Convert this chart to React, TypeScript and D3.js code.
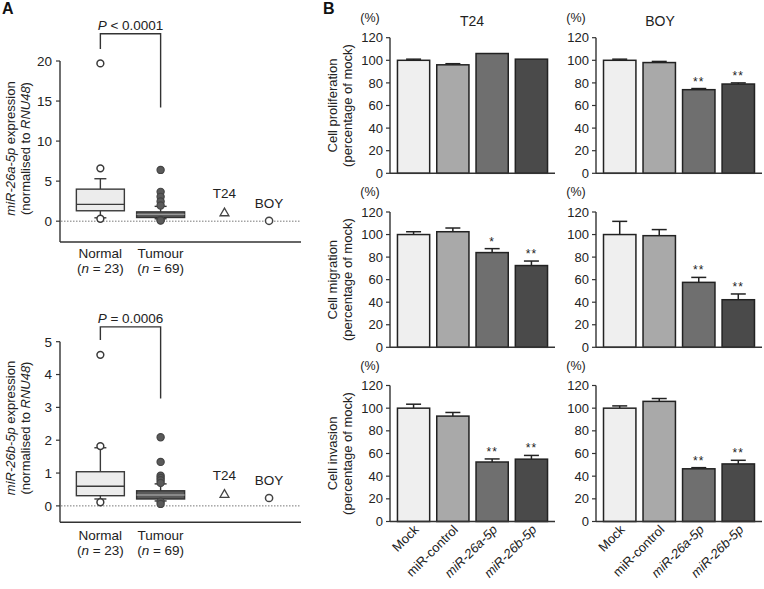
import React from 'react';
import * as d3 from 'd3';

const FONT = '"Liberation Sans", Arial, Helvetica, sans-serif';

// ---------- Panel A data ----------
const boxCategories = ['Normal', 'Tumour'];
const boxN = ['23', '69'];
const cellLines = ['T24', 'BOY'];
// [lower whisker, Q1, median, Q3, upper whisker]
const a26aNormalBox = [0.42, 1.3, 2.1, 4.0, 5.3];
const a26aNormalOut = [19.7, 6.6, 0.3];
const a26aTumourBox = [0.3, 0.46, 0.85, 1.16, 1.85];
const a26aTumourOut = [6.4, 3.66, 3.04, 2.45, 1.95, 0.15, 0.08];
const a26aCellLines = [1.0, 0.05];
const a26aTicks = [0, 5, 10, 15, 20];

const a26bNormalBox = [0.21, 0.31, 0.6, 1.04, 1.77];
const a26bNormalOut = [4.6, 1.82, 0.11];
const a26bTumourBox = [0.15, 0.21, 0.33, 0.46, 0.67];
const a26bTumourOut = [2.09, 1.34, 0.92, 0.85, 0.78, 0.7, 0.13, 0.06];
const a26bCellLines = [0.34, 0.24];
const a26bTicks = [0, 1, 2, 3, 4, 5];

// ---------- Panel B data ----------
const barCategories = ['Mock', 'miR-control', 'miR-26a-5p', 'miR-26b-5p'];
const barTicks = [0, 20, 40, 60, 80, 100, 120];

const t24Prolif = [100, 96, 106, 101];
const t24ProlifErr = [1, 1, 0, 0];
const t24ProlifSig = ['', '', '', ''];
const boyProlif = [100, 98, 74, 79];
const boyProlifErr = [1, 1, 1, 1];
const boyProlifSig = ['', '', '**', '**'];

const t24Migr = [100, 102.5, 84, 72.5];
const t24MigrErr = [2.5, 3.3, 3.5, 4];
const t24MigrSig = ['', '', '*', '**'];
const boyMigr = [100, 99, 57.6, 42.2];
const boyMigrErr = [11.7, 5.4, 4.4, 5.1];
const boyMigrSig = ['', '', '**', '**'];

const t24Inv = [100, 93, 52.5, 55];
const t24InvErr = [3.5, 3.2, 2.7, 3.3];
const t24InvSig = ['', '', '**', '**'];
const boyInv = [100, 106, 46.5, 50.8];
const boyInvErr = [2, 2.5, 1, 3.2];
const boyInvSig = ['', '', '**', '**'];

const barFills = ['#efefef', '#a9a9a9', '#6f6f6f', '#4a4a4a'];

// layout slots for panel A groups (Normal, Tumour, T24, BOY)
const slotA = [0, 1, 2.06, 2.8];

const axisColor = '#333';

function BoxPlot({ cx, y, stats, fill, stroke, medianStroke }: any) {
  const [lo, q1, med, q3, hi] = stats;
  const w = 48;
  const cap = 6;
  return (
    <g>
      <line x1={cx} x2={cx} y1={y(q3)} y2={y(hi)} stroke={stroke} strokeWidth={1.4} />
      <line x1={cx - cap} x2={cx + cap} y1={y(hi)} y2={y(hi)} stroke={stroke} strokeWidth={1.4} />
      <line x1={cx} x2={cx} y1={y(q1)} y2={y(lo)} stroke={stroke} strokeWidth={1.4} />
      <line x1={cx - cap} x2={cx + cap} y1={y(lo)} y2={y(lo)} stroke={stroke} strokeWidth={1.4} />
      <rect x={cx - w / 2} y={y(q3)} width={w} height={Math.max(1, y(q1) - y(q3))} fill={fill} stroke={stroke} strokeWidth={1.4} />
      <line x1={cx - w / 2} x2={cx + w / 2} y1={y(med)} y2={y(med)} stroke={medianStroke} strokeWidth={1.4} />
    </g>
  );
}

function PanelA({ top, bottom, domainMin, domainMax, ticks, normalBox, normalOut, tumourBox, tumourOut, cellVals, pText, bracket, labelLines, labelCenter, xLabelY }: any) {
  const y = d3.scaleLinear().domain([domainMin, domainMax]).range([bottom, top]);
  const x = d3.scaleLinear().domain([-0.67, 3.33]).range([60, 301]);
  const ax = 60;
  const [bTop, bLeft, bRight] = bracket;
  const cxN = x(slotA[0]);
  const cxT = x(slotA[1]);
  return (
    <g fontFamily={FONT}>
      {/* zero dotted line */}
      <line x1={61} x2={301} y1={y(0)} y2={y(0)} stroke="#777" strokeWidth={1} strokeDasharray="1.5,1.5" />
      {/* axes */}
      <line x1={ax} x2={ax} y1={y(ticks[ticks.length - 1])} y2={bottom} stroke={axisColor} strokeWidth={1.4} />
      <line x1={ax} x2={301} y1={bottom} y2={bottom} stroke={axisColor} strokeWidth={1.4} />
      {ticks.map((t: number) => (
        <g key={t}>
          <line x1={ax - 4} x2={ax} y1={y(t)} y2={y(t)} stroke={axisColor} strokeWidth={1.2} />
          <text x={ax - 8} y={y(t) + 4.8} textAnchor="end" fontSize={13.5} fill="#222">{t}</text>
        </g>
      ))}
      <BoxPlot cx={cxN} y={y} stats={normalBox} fill="#ececec" stroke="#3a3a3a" medianStroke="#3a3a3a" />
      <BoxPlot cx={cxT} y={y} stats={tumourBox} fill="#5a5a5a" stroke="#333" medianStroke="#9a9a9a" />
      {normalOut.map((v: number, i: number) => (
        <circle key={'n' + i} cx={cxN} cy={y(v)} r={3.4} fill="#fff" stroke="#3a3a3a" strokeWidth={1.5} />
      ))}
      {tumourOut.map((v: number, i: number) => (
        <circle key={'t' + i} cx={cxT} cy={y(v)} r={3.6} fill="#5a5a5a" stroke="#444" strokeWidth={1.2} />
      ))}
      {/* cell lines */}
      <path d={d3.symbol().type(d3.symbolTriangle).size(34)() as string} transform={`translate(${x(slotA[2])},${y(cellVals[0])})`} fill="#fff" stroke="#444" strokeWidth={1.3} />
      <text x={x(slotA[2])} y={y(cellVals[0]) - 15} textAnchor="middle" fontSize={13.5} fill="#222">{cellLines[0]}</text>
      <circle cx={x(slotA[3])} cy={y(cellVals[1])} r={3.6} fill="#fff" stroke="#444" strokeWidth={1.5} />
      <text x={x(slotA[3])} y={y(cellVals[1]) - 13} textAnchor="middle" fontSize={13.5} fill="#222">{cellLines[1]}</text>
      {/* bracket */}
      <path d={`M${cxN},${y(bLeft)} V${y(bTop)} H${cxT} V${y(bRight)}`} fill="none" stroke="#333" strokeWidth={1.4} />
      <text x={(cxN + cxT) / 2} y={y(bTop) - 4} textAnchor="middle" fontSize={13.5} fill="#222">
        <tspan fontStyle="italic">P</tspan>{pText}
      </text>
      {/* x labels */}
      {boxCategories.map((c, i) => (
        <g key={c}>
          <text x={x(slotA[i])} y={xLabelY} textAnchor="middle" fontSize={13.5} fill="#222">{c}</text>
          <text x={x(slotA[i])} y={xLabelY + 14.5} textAnchor="middle" fontSize={13.5} fill="#222">
            (<tspan fontStyle="italic">n</tspan>{' = ' + boxN[i]})
          </text>
        </g>
      ))}
      {/* y label */}
      <text transform={`translate(15,${labelCenter}) rotate(-90)`} textAnchor="middle" fontSize={13} fill="#222">
        <tspan fontStyle="italic">{labelLines[0]}</tspan>{' expression'}
      </text>
      <text transform={`translate(29.5,${labelCenter}) rotate(-90)`} textAnchor="middle" fontSize={13} fill="#222">
        {'(normalised to '}<tspan fontStyle="italic">RNU48</tspan>{')'}
      </text>
    </g>
  );
}

function BarPanel({ x0, x1, top, bottom, values, errs, sig, title, titleX, xLabels, yLabel }: any) {
  const y = d3.scaleLinear().domain([0, 120]).range([bottom, top]);
  const xb = d3.scaleBand().domain(barCategories).range([x0, x1]).paddingInner(0.18).paddingOuter(0.19);
  const bw = xb.bandwidth();
  return (
    <g fontFamily={FONT}>
      <text x={x0 - 20} y={top - 16} textAnchor="middle" fontSize={12.5} fill="#222">(%)</text>
      {title && <text x={titleX} y={top - 12} textAnchor="middle" fontSize={14} fill="#222">{title}</text>}
      {barCategories.map((c, i) => {
        const bx = xb(c) as number;
        const v = values[i];
        const e = errs[i];
        const cx = bx + bw / 2;
        return (
          <g key={c}>
            {e > 0 && (
              <g>
                <line x1={cx} x2={cx} y1={y(v)} y2={y(v + e)} stroke="#222" strokeWidth={1.5} />
                <line x1={cx - 7.5} x2={cx + 7.5} y1={y(v + e)} y2={y(v + e)} stroke="#222" strokeWidth={1.5} />
              </g>
            )}
            <rect x={bx} y={y(v)} width={bw} height={y(0) - y(v)} fill={barFills[i]} stroke="#222" strokeWidth={1.5} />
            {sig[i] && (
              <text x={cx} y={y(v + e) - 3} textAnchor="middle" fontSize={12} letterSpacing={1} fill="#222">{sig[i]}</text>
            )}
            {xLabels && (
              <text transform={`translate(${cx + 6},${bottom + 9}) rotate(-45)`} textAnchor="end" fontSize={13} fill="#222" fontStyle={i >= 2 ? 'italic' : 'normal'}>{c}</text>
            )}
          </g>
        );
      })}
      <line x1={x0} x2={x0} y1={top} y2={bottom} stroke={axisColor} strokeWidth={1.4} />
      <line x1={x0} x2={x1} y1={bottom} y2={bottom} stroke={axisColor} strokeWidth={1.4} />
      {barTicks.map((t) => (
        <g key={t}>
          <line x1={x0 - 4} x2={x0} y1={y(t)} y2={y(t)} stroke={axisColor} strokeWidth={1.2} />
          <text x={x0 - 7} y={y(t) + 4.6} textAnchor="end" fontSize={13} fill="#222">{t}</text>
        </g>
      ))}
      {yLabel && (
        <g>
          <text transform={`translate(337,${(top + bottom) / 2}) rotate(-90)`} textAnchor="middle" fontSize={13} fill="#222">{yLabel}</text>
          <text transform={`translate(352,${(top + bottom) / 2}) rotate(-90)`} textAnchor="middle" fontSize={13} fill="#222">(percentage of mock)</text>
        </g>
      )}
    </g>
  );
}

export default function App() {
  const rows = [
    { top: 37.7, bottom: 173.3, label: 'Cell proliferation', t24: [t24Prolif, t24ProlifErr, t24ProlifSig], boy: [boyProlif, boyProlifErr, boyProlifSig] },
    { top: 212, bottom: 347.3, label: 'Cell migration', t24: [t24Migr, t24MigrErr, t24MigrSig], boy: [boyMigr, boyMigrErr, boyMigrSig] },
    { top: 385.5, bottom: 521.5, label: 'Cell invasion', t24: [t24Inv, t24InvErr, t24InvSig], boy: [boyInv, boyInvErr, boyInvSig] },
  ];
  return (
    <svg width={764} height={589} style={{ position: 'absolute', left: 0, top: 0, background: '#fff' }}>
      <rect width={764} height={589} fill="#fff" />
      <text x={2} y={14} fontSize={16} fontWeight="bold" fontFamily={FONT} fill="#111">A</text>
      <text x={323} y={14} fontSize={16} fontWeight="bold" fontFamily={FONT} fill="#111">B</text>
      <PanelA top={61} bottom={242} domainMin={-2.6} domainMax={20} ticks={a26aTicks}
        normalBox={a26aNormalBox} normalOut={a26aNormalOut} tumourBox={a26aTumourBox} tumourOut={a26aTumourOut}
        cellVals={a26aCellLines} pText=" < 0.0001" bracket={[23.4, 21.5, 14.2]} labelLines={['miR-26a-5p']}
        labelCenter={148.5} xLabelY={258} />
      <PanelA top={341.7} bottom={522.3} domainMin={-0.5} domainMax={5} ticks={a26bTicks}
        normalBox={a26bNormalBox} normalOut={a26bNormalOut} tumourBox={a26bTumourBox} tumourOut={a26bTumourOut}
        cellVals={a26bCellLines} pText=" = 0.0006" bracket={[5.45, 5.05, 3.27]} labelLines={['miR-26b-5p']}
        labelCenter={428} xLabelY={540} />
      {rows.map((r, i) => (
        <g key={i}>
          <BarPanel x0={390} x1={555} top={r.top} bottom={r.bottom} values={r.t24[0]} errs={r.t24[1]} sig={r.t24[2]}
            title={i === 0 ? 'T24' : ''} titleX={472} xLabels={i === 2} yLabel={r.label} />
          <BarPanel x0={596} x1={762} top={r.top} bottom={r.bottom} values={r.boy[0]} errs={r.boy[1]} sig={r.boy[2]}
            title={i === 0 ? 'BOY' : ''} titleX={660} xLabels={i === 2} />
        </g>
      ))}
    </svg>
  );
}
